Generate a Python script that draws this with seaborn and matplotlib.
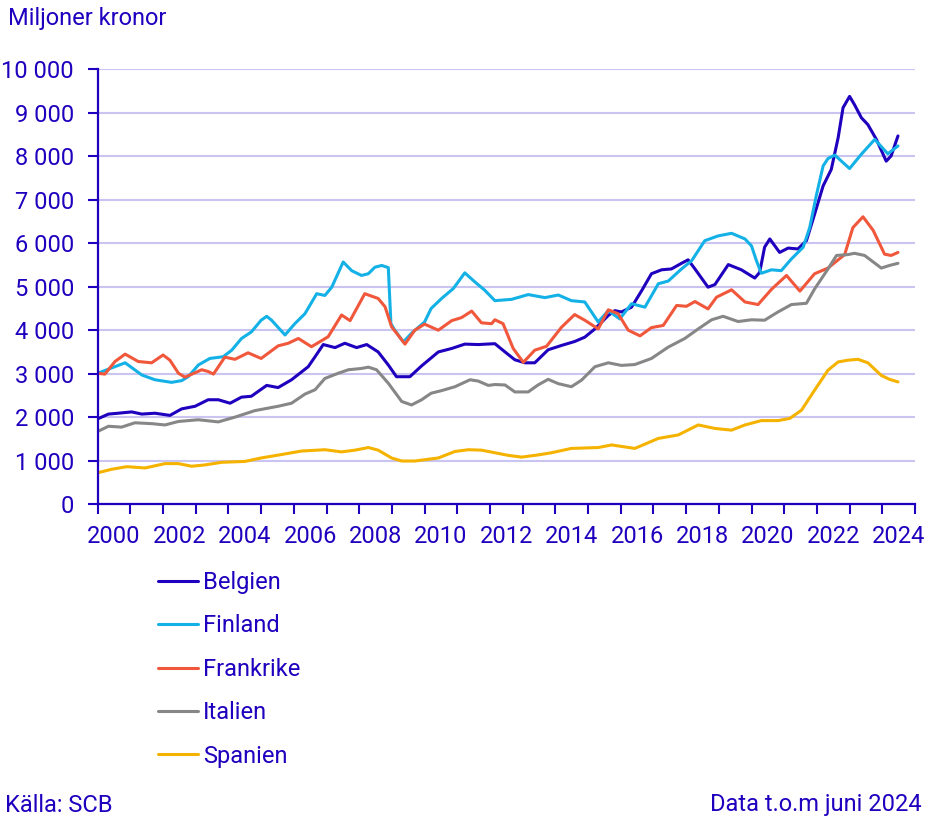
import numpy as np
import pandas as pd
import seaborn as sns
import matplotlib.pyplot as plt
from matplotlib.ticker import FuncFormatter

# Export values, miljoner kronor
countries = ["Belgien", "Finland", "Frankrike", "Italien", "Spanien"]
colors = ["#1E00BE", "#14B1E7", "#F0573B", "#878787", "#F5B300"]

belgien_t = [2000.0, 2000.33, 2000.63, 2001.04, 2001.35, 2001.75, 2002.21, 2002.57, 2002.98,
             2003.38, 2003.69, 2004.05, 2004.4, 2004.7, 2005.17, 2005.52, 2005.93, 2006.44,
             2006.65, 2006.9, 2007.26, 2007.56, 2007.92, 2008.23, 2008.58, 2008.89, 2009.14,
             2009.55, 2009.91, 2010.42, 2010.83, 2011.23, 2011.64, 2012.15, 2012.46, 2012.76,
             2013.07, 2013.37, 2013.78, 2014.19, 2014.59, 2014.9, 2015.21, 2015.62, 2015.82,
             2016.02, 2016.33, 2016.64, 2016.94, 2017.25, 2017.55, 2017.86, 2018.06, 2018.27,
             2018.67, 2018.88, 2019.29, 2019.69, 2020.1, 2020.25, 2020.4, 2020.56, 2020.86,
             2021.12, 2021.42, 2021.68, 2021.93, 2022.19, 2022.44, 2022.65, 2022.8, 2023.0,
             2023.15, 2023.36, 2023.56, 2023.82, 2024.12, 2024.27, 2024.48]
belgien_v = [1960, 2070, 2090, 2120, 2070, 2090, 2040, 2190, 2250,
             2400, 2400, 2320, 2460, 2480, 2730, 2680, 2860, 3160,
             3390, 3670, 3600, 3700, 3600, 3670, 3500, 3200, 2930,
             2930, 3180, 3500, 3580, 3680, 3670, 3690, 3500, 3320,
             3250, 3250, 3550, 3650, 3740, 3840, 4030, 4340, 4450,
             4420, 4530, 4910, 5300, 5390, 5410, 5540, 5620, 5410,
             4990, 5050, 5510, 5390, 5200, 5330, 5910, 6100, 5790,
             5890, 5870, 6060, 6670, 7320, 7700, 8430, 9120, 9380,
             9190, 8890, 8730, 8390, 7890, 8010, 8470]

finland_t = [2000.0, 2000.84, 2001.35, 2001.75, 2002.26, 2002.57, 2002.77, 2003.08, 2003.43,
             2003.84, 2004.1, 2004.4, 2004.7, 2005.0, 2005.17, 2005.32, 2005.73, 2006.03,
             2006.34, 2006.7, 2006.95, 2007.16, 2007.51, 2007.77, 2008.07, 2008.28, 2008.48,
             2008.69, 2008.89, 2008.97, 2009.09, 2009.35, 2009.6, 2010.0, 2010.2, 2010.52,
             2010.88, 2011.23, 2011.54, 2011.84, 2012.15, 2012.66, 2013.17, 2013.68, 2014.09,
             2014.49, 2014.9, 2015.31, 2015.62, 2015.97, 2016.33, 2016.74, 2017.15, 2017.45,
             2017.86, 2018.17, 2018.57, 2018.98, 2019.39, 2019.8, 2020.0, 2020.15, 2020.3,
             2020.61, 2020.91, 2021.22, 2021.58, 2021.78, 2021.98, 2022.19, 2022.34, 2022.55,
             2022.75, 2023.0, 2023.36, 2023.77, 2024.17, 2024.48]
finland_v = [3010, 3250, 2970, 2860, 2800, 2840, 2930, 3200, 3350,
             3390, 3540, 3810, 3960, 4230, 4320, 4230, 3890, 4150,
             4380, 4840, 4800, 4990, 5570, 5370, 5260, 5300, 5450,
             5490, 5440, 4150, 4000, 3730, 3930, 4190, 4500, 4730,
             4960, 5320, 5110, 4920, 4680, 4710, 4820, 4750, 4810,
             4680, 4650, 4190, 4450, 4260, 4610, 4530, 5070, 5130,
             5410, 5600, 6060, 6170, 6230, 6100, 5940, 5600, 5310,
             5390, 5370, 5640, 5910, 6360, 7090, 7780, 7950, 8030,
             7890, 7720, 8050, 8390, 8060, 8240]

frankrike_t = [2000.0, 2000.22, 2000.53, 2000.84, 2001.24, 2001.65, 2002.0, 2002.21, 2002.47,
               2002.67, 2002.98, 2003.18, 2003.38, 2003.54, 2003.89, 2004.2, 2004.6, 2005.0,
               2005.52, 2005.83, 2006.14, 2006.54, 2007.05, 2007.46, 2007.72, 2008.17, 2008.58,
               2008.79, 2008.99, 2009.4, 2009.7, 2010.0, 2010.42, 2010.83, 2011.13, 2011.44,
               2011.74, 2012.05, 2012.15, 2012.4, 2012.71, 2013.02, 2013.37, 2013.73, 2014.19,
               2014.59, 2014.9, 2015.31, 2015.62, 2015.92, 2016.23, 2016.59, 2016.94, 2017.3,
               2017.71, 2018.01, 2018.27, 2018.67, 2018.93, 2019.39, 2019.8, 2020.2, 2020.61,
               2021.07, 2021.48, 2021.93, 2022.34, 2022.85, 2023.1, 2023.41, 2023.72, 2024.07,
               2024.27, 2024.48]
frankrike_v = [3010, 2990, 3280, 3450, 3280, 3250, 3430, 3310, 3010,
               2920, 3020, 3090, 3050, 2990, 3380, 3330, 3480, 3350,
               3640, 3700, 3810, 3620, 3850, 4350, 4220, 4840, 4730,
               4540, 4080, 3680, 4000, 4140, 4000, 4220, 4290, 4440,
               4170, 4150, 4240, 4150, 3580, 3260, 3540, 3630, 4070,
               4360, 4230, 4030, 4470, 4380, 4000, 3870, 4060, 4110,
               4570, 4550, 4660, 4490, 4760, 4930, 4650, 4590, 4940,
               5260, 4900, 5300, 5430, 5740, 6360, 6610, 6300, 5750,
               5720, 5790]

italien_t = [2000.0, 2000.33, 2000.73, 2001.14, 2001.65, 2002.06, 2002.47, 2003.08, 2003.69,
             2004.2, 2004.81, 2005.52, 2005.93, 2006.34, 2006.65, 2006.95, 2007.36, 2007.67,
             2008.07, 2008.28, 2008.53, 2008.89, 2009.3, 2009.6, 2009.91, 2010.2, 2010.52,
             2010.93, 2011.39, 2011.64, 2011.95, 2012.15, 2012.46, 2012.76, 2013.17, 2013.47,
             2013.78, 2014.09, 2014.49, 2014.8, 2015.21, 2015.62, 2016.02, 2016.43, 2016.94,
             2017.45, 2017.96, 2018.37, 2018.78, 2019.13, 2019.59, 2020.0, 2020.4, 2020.81,
             2021.22, 2021.68, 2021.93, 2022.34, 2022.6, 2022.95, 2023.15, 2023.46, 2023.97,
             2024.22, 2024.48]
italien_v = [1670, 1790, 1770, 1870, 1850, 1820, 1900, 1940, 1890,
             2000, 2150, 2250, 2320, 2530, 2630, 2890, 3010, 3090,
             3120, 3150, 3090, 2780, 2360, 2280, 2400, 2550, 2610,
             2700, 2860, 2830, 2730, 2750, 2740, 2580, 2580, 2740,
             2870, 2770, 2700, 2850, 3160, 3250, 3190, 3210, 3350,
             3610, 3810, 4030, 4240, 4320, 4200, 4240, 4230, 4420,
             4590, 4620, 4950, 5410, 5720, 5740, 5770, 5720, 5430,
             5490, 5540]

spanien_t = [2000.0, 2000.43, 2000.89, 2001.45, 2002.06, 2002.47, 2002.87, 2003.28, 2003.79,
             2004.5, 2005.0, 2005.63, 2006.24, 2006.95, 2007.46, 2007.87, 2008.28, 2008.58,
             2008.99, 2009.3, 2009.7, 2010.42, 2010.93, 2011.34, 2011.74, 2012.15, 2012.56,
             2012.97, 2013.47, 2013.88, 2014.49, 2015.31, 2015.72, 2016.43, 2017.15, 2017.76,
             2018.37, 2018.88, 2019.39, 2019.8, 2020.3, 2020.81, 2021.17, 2021.53, 2021.93,
             2022.34, 2022.65, 2022.95, 2023.26, 2023.56, 2023.97, 2024.22, 2024.48]
spanien_v = [720, 800, 860, 830, 930, 930, 870, 900, 960,
             980, 1060, 1140, 1220, 1250, 1200, 1240, 1300, 1240,
             1060, 990, 990, 1060, 1210, 1250, 1240, 1180, 1120,
             1080, 1130, 1180, 1280, 1300, 1360, 1280, 1510, 1590,
             1820, 1740, 1700, 1820, 1920, 1920, 1970, 2160, 2620,
             3080, 3270, 3310, 3330, 3250, 2960, 2870, 2810]

series_t = [belgien_t, finland_t, frankrike_t, italien_t, spanien_t]
series_v = [belgien_v, finland_v, frankrike_v, italien_v, spanien_v]

df = pd.concat([pd.DataFrame({"year": t, "value": v, "land": name})
                for name, t, v in zip(countries, series_t, series_v)], ignore_index=True)

blue = "#1E00BE"
fs = 17
sns.set_theme(style="white")
plt.rcParams["font.family"] = ["Roboto", "DejaVu Sans"]
plt.rcParams["font.size"] = fs

fig = plt.figure(figsize=(9.52, 8.24), dpi=100)
ax = fig.add_axes([0.1026, 0.3883, 0.8585, 0.5274])

sns.lineplot(data=df, x="year", y="value", hue="land", hue_order=countries,
             palette=colors, estimator=None, sort=False, lw=2.2, ax=ax)

handles, labels = ax.get_legend_handles_labels()
ax.get_legend().remove()

ax.set_xlim(2000, 2025)
ax.set_ylim(0, 10000)
ax.set_xlabel("")
ax.set_ylabel("")

# year ticks, labels centered in every second year
ax.set_xticks(range(2000, 2026))
ax.set_xticklabels([])
ax.set_xticks(np.arange(2000.5, 2025, 2), minor=True)
ax.set_xticklabels([str(y) for y in range(2000, 2025, 2)], minor=True)
ax.tick_params(axis="x", which="major", bottom=True, length=7, width=1.5, color=blue)
ax.tick_params(axis="x", which="minor", bottom=True, length=0, pad=15, labelcolor=blue,
               labelsize=fs)

ax.set_yticks(range(0, 10001, 1000))
ax.yaxis.set_major_formatter(FuncFormatter(lambda v, p: f"{int(v):,}".replace(",", " ")))
ax.tick_params(axis="y", left=True, length=7, width=1.5, color=blue, pad=10,
               labelcolor=blue, labelsize=fs)

ax.yaxis.grid(True, color="#C9C5F0", lw=1.5)
ax.xaxis.grid(False)
ax.set_axisbelow(True)
for s in ["top", "right"]:
    ax.spines[s].set_visible(False)
for s in ["left", "bottom"]:
    ax.spines[s].set_color(blue)
    ax.spines[s].set_linewidth(1.6)

fig.legend(handles, labels, loc="upper left", bbox_to_anchor=(158 / 952, 1 - 571 / 824),
           frameon=False, borderpad=0, borderaxespad=0, handlelength=1.69,
           handletextpad=0.21, labelspacing=0.865, labelcolor=blue, fontsize=fs)

fig.text(8 / 952, 1 - 19 / 824, "Miljoner kronor", color=blue, fontsize=fs, va="center")
fig.text(5 / 952, 1 - 805 / 824, "Källa: SCB", color=blue, fontsize=fs, va="center")
fig.text(922 / 952, 1 - 805 / 824, "Data t.o.m juni 2024", color=blue, fontsize=fs,
         va="center", ha="right")

fig.savefig("out.png", dpi=100)
